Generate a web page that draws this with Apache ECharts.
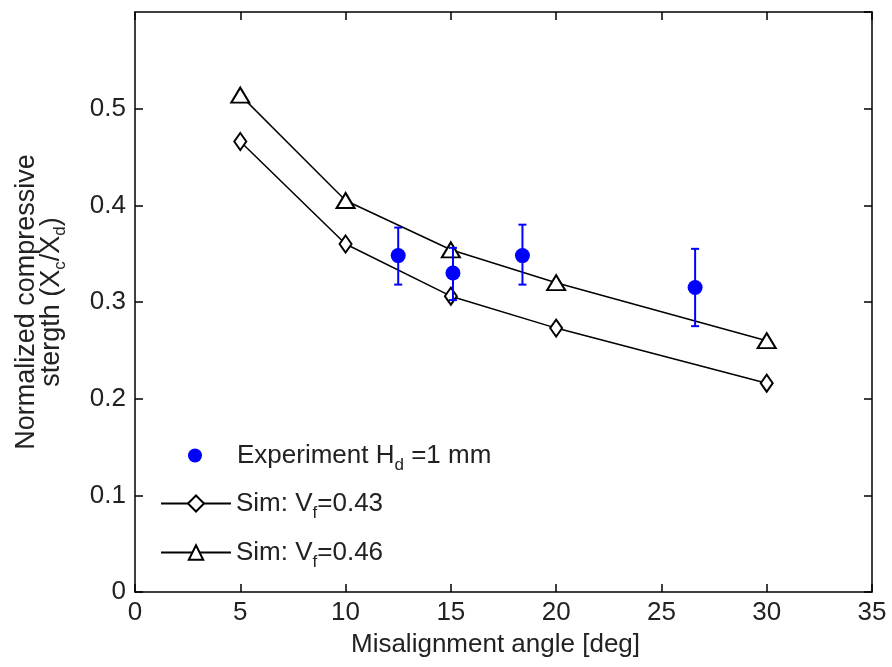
<!DOCTYPE html>
<html>
<head>
<meta charset="utf-8">
<script src="https://cdn.jsdelivr.net/npm/echarts@6/dist/echarts.min.js"></script>
<style>
  html, body { margin: 0; padding: 0; background: #fff; }
  #chart { width: 892px; height: 667px; }
</style>
</head>
<body>
<div id="chart"></div>
<script>
const chart = echarts.init(document.getElementById('chart'));
const FONT = 'Liberation Sans';

// simulation curves
const angles = [5, 10, 15, 20, 30];
const simVf043 = [0.466, 0.360, 0.306, 0.273, 0.216];
const simVf046 = [0.514, 0.405, 0.354, 0.320, 0.260];

// experiment, mean with error bar limits
const expAngles = [12.5, 15.1, 18.4, 26.6];
const expMean = [0.348, 0.330, 0.348, 0.315];
const expLow = [0.318, 0.302, 0.318, 0.275];
const expHigh = [0.377, 0.356, 0.380, 0.355];

const xTicks = [0, 35, 5];
const yTicks = [0, 0.6, 0.1];

const NAME_EXP = 'exp';
const NAME_43 = 'sim43';
const NAME_46 = 'sim46';
const legendText = {
  [NAME_EXP]: '{sp| }{n|Experiment H}{s|d}{n| =1 mm}',
  [NAME_43]: '{n|Sim: V}{s|f}{n|=0.43}',
  [NAME_46]: '{n|Sim: V}{s|f}{n|=0.46}'
};
// subscripts: top-aligned tokens, the small one pushed down by its top padding
const makeRich = (size) => ({
  sp: { width: 30, fontSize: 10, lineHeight: 20, verticalAlign: 'top' },
  n: { fontFamily: FONT, fontSize: size, color: '#222', lineHeight: 25, verticalAlign: 'top' },
  s: { fontFamily: FONT, fontSize: 17, color: '#222', lineHeight: 20, padding: [14, 0, 0, 0], verticalAlign: 'top' }
});

function legendAt(name, left, top, itemWidth, itemHeight) {
  return {
    data: [name], left: left, top: top, orient: 'vertical', padding: 0,
    itemWidth: itemWidth, itemHeight: itemHeight, itemGap: 0,
    selectedMode: false, backgroundColor: 'transparent',
    formatter: n => legendText[n],
    textStyle: { rich: makeRich(26) }
  };
}

const errorData = expAngles.map((x, i) => [x, expLow[i], expHigh[i]]);

const frameAxis = (extra) => Object.assign({
  type: 'value', min: 0, interval: 5,
  axisLine: { show: true, onZero: false, lineStyle: { color: '#000', width: 1.5 } },
  axisTick: { show: true, inside: true, length: 8, lineStyle: { color: '#000', width: 1.5 } },
  axisLabel: { show: false }, splitLine: { show: false }
}, extra);

chart.setOption({
  backgroundColor: '#fff',
  animation: false,
  grid: { left: 135, right: 20, top: 12, bottom: 75, containLabel: false, outerBoundsMode: 'none' },
  legend: [
    legendAt(NAME_EXP, 188, 443, 14, 14),
    legendAt(NAME_43, 160, 491, 70, 20),
    legendAt(NAME_46, 160, 540, 70, 18)
  ],
  xAxis: [
    frameAxis({
      min: xTicks[0], max: xTicks[1], interval: xTicks[2], position: 'bottom',
      axisLabel: { show: true, fontFamily: FONT, fontSize: 26, color: '#222', margin: 8 },
      name: 'Misalignment angle [deg]', nameLocation: 'middle', nameGap: 40,
      nameTextStyle: { fontFamily: FONT, fontSize: 26, color: '#222', padding: [0, 16, 0, 0] }
    }),
    frameAxis({ min: xTicks[0], max: xTicks[1], interval: xTicks[2], position: 'top' })
  ],
  yAxis: [
    frameAxis({
      min: yTicks[0], max: yTicks[1], interval: yTicks[2], position: 'left',
      axisLabel: {
        show: true, fontFamily: FONT, fontSize: 26, color: '#222', margin: 9,
        showMaxLabel: false
      },
      name: '{n|Normalized compressive}\n{n|stergth (X}{s|c}{n|/X}{s|d}{n|)}',
      nameLocation: 'middle', nameRotate: 90, nameGap: 72,
      nameTextStyle: { rich: makeRich(27), align: 'center' }
    }),
    frameAxis({ min: yTicks[0], max: yTicks[1], interval: yTicks[2], position: 'right' })
  ],
  series: [
    {
      name: NAME_43, type: 'line',
      data: angles.map((x, i) => [x, simVf043[i]]),
      symbol: 'emptyDiamond', symbolSize: [12, 17], showAllSymbol: true,
      lineStyle: { color: '#000', width: 1.5 },
      itemStyle: { color: '#000', borderColor: '#000', borderWidth: 1.2 },
      z: 2
    },
    {
      name: NAME_46, type: 'line',
      data: angles.map((x, i) => [x, simVf046[i]]),
      symbol: 'emptyTriangle', symbolSize: [18, 15],
      lineStyle: { color: '#000', width: 1.5 },
      itemStyle: { color: '#000', borderColor: '#000', borderWidth: 1.2 },
      z: 2
    },
    {
      name: 'errorbars', type: 'custom',
      data: errorData,
      encode: { x: 0, y: [1, 2] },
      renderItem: (params, api) => {
        const lo = api.coord([api.value(0), api.value(1)]);
        const hi = api.coord([api.value(0), api.value(2)]);
        const cap = 4;
        const style = { stroke: '#0000ff', lineWidth: 2 };
        return {
          type: 'group',
          children: [
            { type: 'line', shape: { x1: lo[0], y1: lo[1], x2: hi[0], y2: hi[1] }, style },
            { type: 'line', shape: { x1: lo[0] - cap, y1: lo[1], x2: lo[0] + cap, y2: lo[1] }, style },
            { type: 'line', shape: { x1: hi[0] - cap, y1: hi[1], x2: hi[0] + cap, y2: hi[1] }, style }
          ]
        };
      },
      z: 3
    },
    {
      name: NAME_EXP, type: 'scatter',
      data: expAngles.map((x, i) => [x, expMean[i]]),
      symbol: 'circle', symbolSize: 15,
      itemStyle: { color: '#0000ff', opacity: 1 },
      z: 4
    }
  ]
});
window.addEventListener('resize', () => chart.resize());
</script>
</body>
</html>
